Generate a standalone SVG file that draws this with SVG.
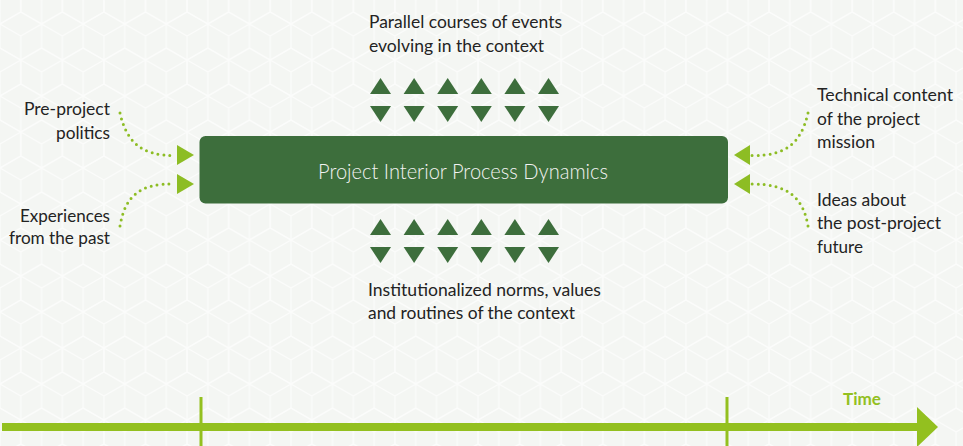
<svg xmlns="http://www.w3.org/2000/svg" width="963" height="446" viewBox="0 0 963 446">
  <defs>
    <!-- isometric "tumbling blocks" backdrop tile -->
    <pattern id="cubes" width="41.57" height="72" patternUnits="userSpaceOnUse">
      <g fill="none" stroke="#ffffff" stroke-width="1.2">
        <path d="M0,-24 L20.78,-12 L20.78,12 L0,24 L-20.78,12 L-20.78,-12 Z M0,0 L0,24 M0,0 L-20.78,-12 M0,0 L20.78,-12"/>
        <path d="M41.57,-24 L62.35,-12 L62.35,12 L41.57,24 L20.78,12 L20.78,-12 Z M41.57,0 L41.57,24 M41.57,0 L20.78,-12 M41.57,0 L62.35,-12"/>
        <path d="M20.78,12 L41.57,24 L41.57,48 L20.78,60 L0,48 L0,24 Z M20.78,36 L20.78,60 M20.78,36 L0,24 M20.78,36 L41.57,24"/>
        <path d="M0,48 L20.78,60 L20.78,84 L0,96 L-20.78,84 L-20.78,60 Z M0,72 L0,96 M0,72 L-20.78,60 M0,72 L20.78,60"/>
        <path d="M41.57,48 L62.35,60 L62.35,84 L41.57,96 L20.78,84 L20.78,60 Z M41.57,72 L41.57,96 M41.57,72 L20.78,60 M41.57,72 L62.35,60"/>
      </g>
    </pattern>
    <style>
      .txt { font-family: Lato, "Liberation Sans", sans-serif; font-size: 18px; fill: #232323; }
      .right { text-anchor: end; }
      .tri { fill: #3d6e3c; }
      .dots { fill: none; stroke: #8dbd24; stroke-width: 3; stroke-linecap: round; stroke-dasharray: 0 6; }
      .head { fill: #8dbd24; }
      .axis { fill: #93c01f; }
    </style>
  </defs>

  <!-- backdrop -->
  <rect width="963" height="446" fill="#f4f6f3"/>
  <rect width="963" height="446" fill="url(#cubes)" opacity="0.65"/>

  <!-- central process box -->
  <g id="node-process">
    <rect x="199.5" y="136" width="528.5" height="67.5" rx="6" fill="#3d6e3c"/>
    <text x="318" y="179" textLength="290" lengthAdjust="spacingAndGlyphs" style="font-family: Lato, 'Liberation Sans', sans-serif; font-size: 22px; font-weight: 300; fill: #f2f2f2;">Project Interior Process Dynamics</text>
  </g>

  <!-- upper context -->
  <g id="node-parallel">
    <text class="txt" x="369" y="28" textLength="193" lengthAdjust="spacingAndGlyphs">Parallel courses of events</text>
    <text class="txt" x="369" y="52" textLength="175" lengthAdjust="spacingAndGlyphs">evolving in the context</text>
  </g>
  <g id="node-upper-exchange">
    <polygon class="tri" points="370,94 380.5,78 391,94"/>
    <polygon class="tri" points="403.6,94 414.1,78 424.6,94"/>
    <polygon class="tri" points="437.2,94 447.7,78 458.2,94"/>
    <polygon class="tri" points="470.8,94 481.3,78 491.8,94"/>
    <polygon class="tri" points="504.4,94 514.9,78 525.4,94"/>
    <polygon class="tri" points="538,94 548.5,78 559,94"/>
    <polygon class="tri" points="370,106 380.5,122 391,106"/>
    <polygon class="tri" points="403.6,106 414.1,122 424.6,106"/>
    <polygon class="tri" points="437.2,106 447.7,122 458.2,106"/>
    <polygon class="tri" points="470.8,106 481.3,122 491.8,106"/>
    <polygon class="tri" points="504.4,106 514.9,122 525.4,106"/>
    <polygon class="tri" points="538,106 548.5,122 559,106"/>
  </g>

  <!-- lower context -->
  <g id="node-lower-exchange">
    <polygon class="tri" points="370,235 380.5,219 391,235"/>
    <polygon class="tri" points="403.6,235 414.1,219 424.6,235"/>
    <polygon class="tri" points="437.2,235 447.7,219 458.2,235"/>
    <polygon class="tri" points="470.8,235 481.3,219 491.8,235"/>
    <polygon class="tri" points="504.4,235 514.9,219 525.4,235"/>
    <polygon class="tri" points="538,235 548.5,219 559,235"/>
    <polygon class="tri" points="370,247 380.5,263 391,247"/>
    <polygon class="tri" points="403.6,247 414.1,263 424.6,247"/>
    <polygon class="tri" points="437.2,247 447.7,263 458.2,247"/>
    <polygon class="tri" points="470.8,247 481.3,263 491.8,247"/>
    <polygon class="tri" points="504.4,247 514.9,263 525.4,247"/>
    <polygon class="tri" points="538,247 548.5,263 559,247"/>
  </g>
  <g id="node-norms">
    <text class="txt" x="368" y="296" textLength="233" lengthAdjust="spacingAndGlyphs">Institutionalized norms, values</text>
    <text class="txt" x="368" y="319" textLength="207" lengthAdjust="spacingAndGlyphs">and routines of the context</text>
  </g>

  <!-- left inputs -->
  <g id="node-politics">
    <text class="txt right" x="110" y="115" textLength="86" lengthAdjust="spacingAndGlyphs">Pre-project</text>
    <text class="txt right" x="110" y="139" textLength="54" lengthAdjust="spacingAndGlyphs">politics</text>
  </g>
  <g id="node-experiences">
    <text class="txt right" x="110" y="222" textLength="90" lengthAdjust="spacingAndGlyphs">Experiences</text>
    <text class="txt right" x="110" y="244" textLength="101" lengthAdjust="spacingAndGlyphs">from the past</text>
  </g>

  <!-- right inputs -->
  <g id="node-technical">
    <text class="txt" x="817" y="101" textLength="136" lengthAdjust="spacingAndGlyphs">Technical content</text>
    <text class="txt" x="817" y="125" textLength="103" lengthAdjust="spacingAndGlyphs">of the project</text>
    <text class="txt" x="817" y="148" textLength="58" lengthAdjust="spacingAndGlyphs">mission</text>
  </g>
  <g id="node-ideas">
    <text class="txt" x="817" y="206" textLength="89" lengthAdjust="spacingAndGlyphs">Ideas about</text>
    <text class="txt" x="817" y="229" textLength="124" lengthAdjust="spacingAndGlyphs">the post-project</text>
    <text class="txt" x="817" y="253" textLength="46" lengthAdjust="spacingAndGlyphs">future</text>
  </g>

  <!-- dotted connectors into the process box -->
  <g id="connectors">
    <path class="dots" d="M120,113 C126,140 140,156 175,155.5"/>
    <polygon class="head" points="177,145 194,155 177,165"/>
    <path class="dots" d="M120,226 C125,196 140,183 175,184"/>
    <polygon class="head" points="177,174 194,184 177,194"/>
    <path class="dots" d="M808,113 C801,143 786,156 752,155.5"/>
    <polygon class="head" points="750,145 734,155 750,165"/>
    <path class="dots" d="M808,226 C803,196 786,184 752,184"/>
    <polygon class="head" points="750,174 734,184 750,194"/>
  </g>

  <!-- time axis -->
  <g id="node-time">
    <rect class="axis" x="2" y="423" width="918" height="8"/>
    <polygon class="axis" points="917,407 938,427 917,447"/>
    <rect class="axis" x="199.5" y="397" width="3" height="49"/>
    <rect class="axis" x="725.5" y="397" width="3" height="49"/>
    <text x="843" y="405" textLength="38" lengthAdjust="spacingAndGlyphs" style="font-family: Lato, 'Liberation Sans', sans-serif; font-size: 17px; font-weight: 700; fill: #93c01f;">Time</text>
  </g>
</svg>
